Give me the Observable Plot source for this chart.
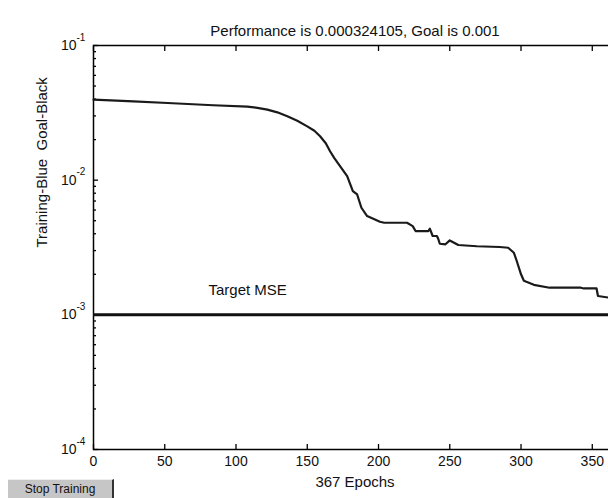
<!DOCTYPE html>
<html>
<head>
<meta charset="utf-8">
<script src="https://cdn.jsdelivr.net/npm/d3@7"></script>
<script src="https://cdn.jsdelivr.net/npm/@observablehq/plot@0.6"></script>
<style>
  html, body { margin: 0; padding: 0; background: #fff; overflow: hidden; }
  #wrap { position: relative; width: 608px; height: 498px; }
  #btn {
    position: absolute; left: 8px; top: 479px; width: 106px; height: 19px;
    background: #c6c6c6; border-right: 2px solid #333; border-top: 1px solid #eee;
    font: 12px "Liberation Sans", Arial, sans-serif; color: #111;
    text-align: center; line-height: 18px; box-sizing: border-box;
  }
</style>
</head>
<body>
<div id="wrap"><div id="btn">Stop Training</div></div>
<script>
// Training performance (MSE) per epoch
const epochs = [0, 28, 52, 84, 108, 115, 122, 129, 136, 143, 150, 155, 159, 163, 166, 169, 173, 178, 182, 185, 188, 192, 201, 204, 220, 224, 226, 235, 236, 238, 241, 242, 243, 247, 250, 256, 269, 285, 291, 295, 297, 300, 302, 309, 320, 342, 344, 353, 354, 362];
const perf   = [0.0396, 0.0385, 0.0374, 0.0360, 0.0352, 0.0344, 0.0334, 0.0319, 0.0298, 0.0276, 0.0251, 0.0233, 0.0212, 0.0188, 0.0164, 0.01456, 0.0127, 0.0107, 0.0083, 0.00783, 0.00624, 0.00541, 0.00491, 0.00483, 0.00483, 0.00456, 0.00419, 0.00419, 0.00436, 0.00385, 0.00385, 0.00364, 0.00337, 0.00334, 0.00357, 0.00330, 0.00323, 0.00319, 0.00315, 0.00289, 0.00251, 0.00200, 0.00179, 0.00167, 0.00159, 0.00159, 0.00157, 0.00157, 0.00138, 0.00134];
const goal = 0.001;
const goalLabel = "Target MSE";
const totalEpochs = 367;
const title = "Performance is 0.000324105, Goal is 0.001";
const xLabel = "367 Epochs";
const yLabel = "Training-Blue  Goal-Black";
const xTicks = [0, 50, 100, 150, 200, 250, 300, 350];
const yTicks = [1e-4, 1e-3, 1e-2, 1e-1];
const yExponents = ["-4", "-3", "-2", "-1"];
const yMinorTicks = [];
for (const d of [1e-4, 1e-3, 1e-2]) for (let m = 2; m <= 9; m++) yMinorTicks.push(d * m);

const series = epochs.map((e, i) => ({epoch: e, value: perf[i]}));
const font = '"Liberation Sans", Arial, sans-serif';

const chart = Plot.plot({
  width: 608,
  height: 498,
  marginLeft: 93,
  marginRight: -8,
  marginTop: 45,
  marginBottom: 49,
  style: {fontFamily: font, fontSize: "14px", color: "black", background: "white", overflow: "hidden"},
  x: {type: "linear", domain: [0, totalEpochs]},
  y: {type: "log", domain: [1e-4, 1e-1]},
  marks: [
    Plot.frame({stroke: "black", strokeWidth: 1.5}),
    // inward ticks
    Plot.axisX({ticks: xTicks, tickSize: -5, tickFormat: () => "", label: null, strokeWidth: 1.3}),
    Plot.axisX({anchor: "top", ticks: xTicks, tickSize: -5, tickFormat: () => "", label: null, strokeWidth: 1.3}),
    Plot.axisY({ticks: yTicks, tickSize: -5, tickFormat: () => "", label: null, strokeWidth: 1.3}),
    Plot.axisY({ticks: yMinorTicks, tickSize: -3, tickFormat: () => "", label: null, strokeWidth: 1.3}),
    // tick labels
    Plot.axisX({ticks: xTicks, tickSize: 0, tickPadding: 7, label: null, fontSize: 14, fill: "#111"}),
    Plot.axisY({ticks: yTicks, tickSize: 0, tickPadding: 17, tickFormat: () => "10", label: null, fontSize: 14, fill: "#111"}),
    Plot.text(yTicks, {y: d => d, frameAnchor: "left", dx: -17, dy: -8, textAnchor: "start",
      text: (d, i) => yExponents[i], fontSize: 10, fill: "#111"}),
    // goal
    Plot.ruleY([goal], {stroke: "#111", strokeWidth: 3}),
    Plot.text([goal], {y: d => d, frameAnchor: "left", dx: 115, dy: -25, text: () => goalLabel, fontSize: 15, fill: "#111"}),
    // training curve
    Plot.line(series, {x: "epoch", y: "value", stroke: "#1a1a1a", strokeWidth: 2.2}),
    // titles
    Plot.text([title], {frameAnchor: "top", dy: -20, text: d => d, fontSize: 15, fill: "#111"}),
    Plot.text([xLabel], {frameAnchor: "bottom", dy: 37, text: d => d, fontSize: 15, fill: "#111"}),
    Plot.text([yLabel], {frameAnchor: "left", dx: -51, rotate: -90, text: d => d, fontSize: 15, fill: "#111"})
  ]
});
document.getElementById("wrap").prepend(chart);
chart.style.position = "absolute";
chart.style.left = "0";
chart.style.top = "0";
</script>
</body>
</html>
